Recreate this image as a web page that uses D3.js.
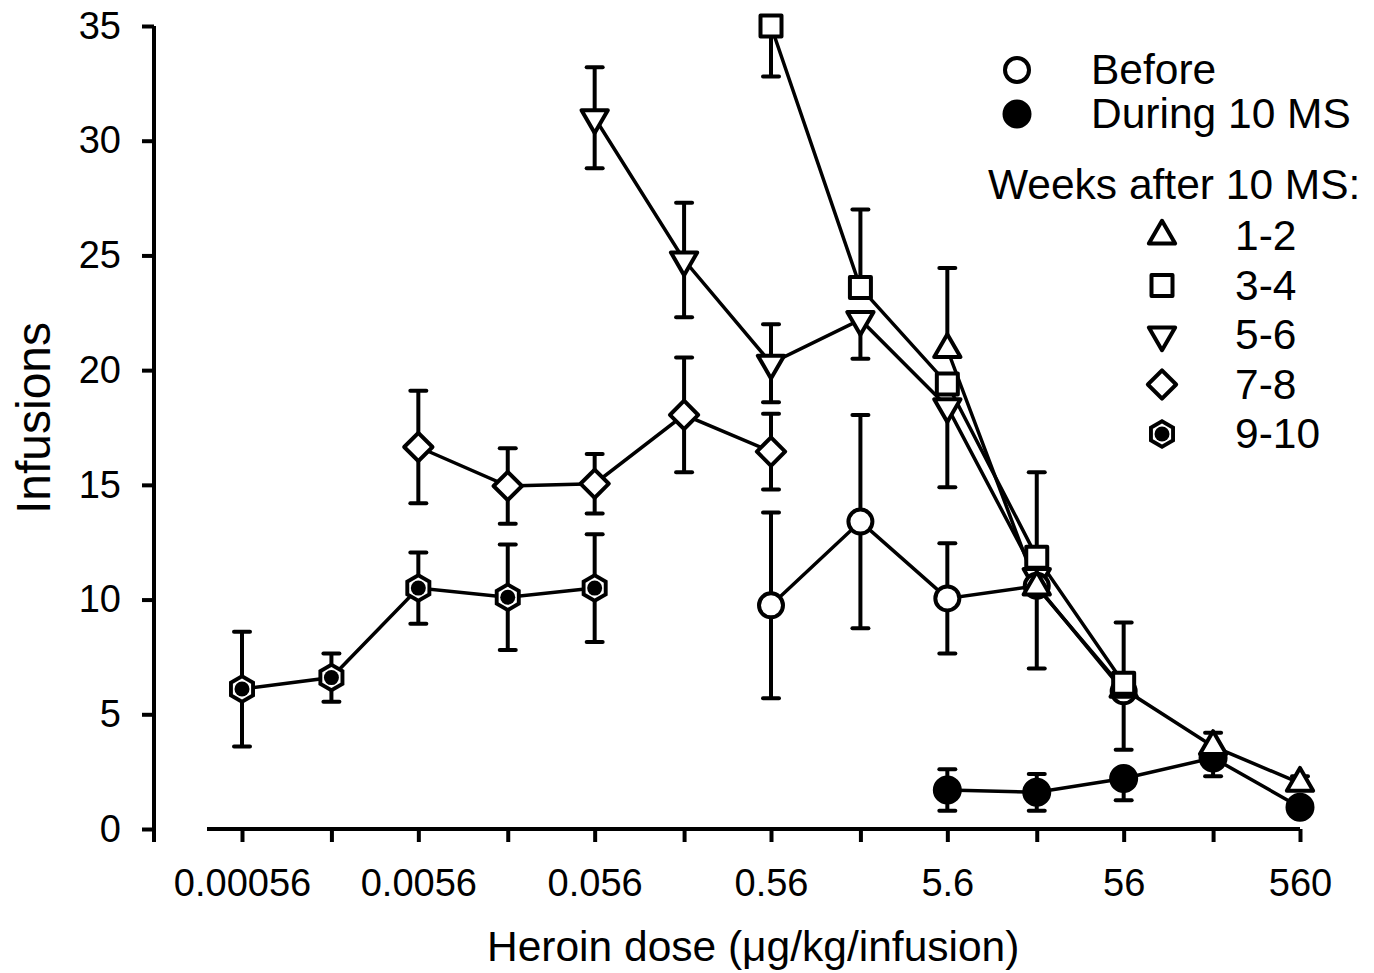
<!DOCTYPE html>
<html lang="en">
<head>
<meta charset="UTF-8">
<title>Heroin dose-response</title>
<script src="https://cdn.jsdelivr.net/npm/d3@7"></script>
<style>
body { margin: 0; background: #fff; }
text { font-family: "Liberation Sans", Arial, sans-serif; fill: #000; }
</style>
</head>
<body>
<script>
var width = 1374, height = 973;

// doses (ug/kg/infusion), one per half log step
var doseTicks = [0.00056, 0.0018, 0.0056, 0.018, 0.056, 0.18, 0.56, 1.8, 5.6, 18, 56, 180, 560];
var doseLabels = ["0.00056", "", "0.0056", "", "0.056", "", "0.56", "", "5.6", "", "56", "", "560"];
var yTicks = [0, 5, 10, 15, 20, 25, 30, 35];

// series: doses, mean infusions, error bar up / down (bars hidden by markers kept short)
var beforeDose = [0.56, 1.8, 5.6, 18, 56];
var beforeMean = [9.75, 13.4, 10.05, 10.6, 6.0];
var beforeUp   = [4.05, 4.65, 2.4, 0.3, 0.3];
var beforeDown = [4.05, 4.65, 2.4, 0.3, 2.55];

var duringDose = [5.6, 18, 56, 180, 560];
var duringMean = [1.7, 1.6, 2.2, 3.1, 0.95];
var duringUp   = [0.9, 0.8, 0.3, 0.3, 0.3];
var duringDown = [0.9, 0.8, 0.95, 0.8, 0.3];

var w12Dose = [5.6, 18, 56, 180, 560];
var w12Mean = [20.9, 10.55, 6.1, 3.6, 2.0];
var w12Up   = [3.55, 0.3, 0.3, 0.6, 0.3];
var w12Down = [0.3, 3.55, 0.3, 0.3, 0.3];

var w34Dose = [0.56, 1.8, 5.6, 18, 56];
var w34Mean = [35.0, 23.6, 19.4, 11.85, 6.35];
var w34Up   = [2.2, 3.4, 0.3, 3.7, 2.65];
var w34Down = [2.2, 0.3, 0.3, 0.3, 0.3];

var w56Dose = [0.056, 0.18, 0.56, 1.8, 5.6, 18];
var w56Mean = [31.0, 24.8, 20.3, 22.2, 18.4, 11.0];
var w56Up   = [2.2, 2.5, 1.7, 0.3, 0.3, 0.3];
var w56Down = [2.2, 2.5, 1.7, 1.7, 3.5, 0.3];

var w78Dose = [0.0056, 0.018, 0.056, 0.18, 0.56];
var w78Mean = [16.65, 14.95, 15.05, 18.05, 16.45];
var w78Up   = [2.45, 1.65, 1.3, 2.5, 1.65];
var w78Down = [2.45, 1.65, 1.3, 2.5, 1.65];

var w910Dose = [0.00056, 0.0018, 0.0056, 0.018, 0.056];
var w910Mean = [6.1, 6.6, 10.5, 10.1, 10.5];
var w910Up   = [2.5, 1.05, 1.55, 2.3, 2.35];
var w910Down = [2.5, 1.05, 1.55, 2.3, 2.35];

function pack(dose, mean, up, down) {
	return dose.map(function(d, i) { return {dose: d, mean: mean[i], up: up[i], down: down[i]}; });
}

// drawing order (later on top)
var series = [
	{name: "9-10", shape: "hex", data: pack(w910Dose, w910Mean, w910Up, w910Down)},
	{name: "7-8", shape: "diamond", data: pack(w78Dose, w78Mean, w78Up, w78Down)},
	{name: "5-6", shape: "down", data: pack(w56Dose, w56Mean, w56Up, w56Down)},
	{name: "During", shape: "filled", data: pack(duringDose, duringMean, duringUp, duringDown)},
	{name: "Before", shape: "open", data: pack(beforeDose, beforeMean, beforeUp, beforeDown)},
	{name: "1-2", shape: "up", data: pack(w12Dose, w12Mean, w12Up, w12Down)},
	{name: "3-4", shape: "square", data: pack(w34Dose, w34Mean, w34Up, w34Down)}
];

var svg = d3.select("body").append("svg").attr("width", width).attr("height", height);

var x = d3.scaleLog().domain([0.00056, 560]).range([242, 1300]);
var y = d3.scaleLinear().domain([0, 35]).range([829, 26]);

// axes
var xAxis = svg.append("g").attr("transform", "translate(0," + y(0) + ")")
	.call(d3.axisBottom(x).tickValues(doseTicks)
		.tickFormat(function(d, i) { return doseLabels[i]; })
		.tickSize(13).tickPadding(27).tickSizeOuter(0));
xAxis.select(".domain").attr("d", "M" + (x(0.00056) - 35) + ",0H" + x(560));

var yAxis = svg.append("g").attr("transform", "translate(154,0)")
	.call(d3.axisLeft(y).tickValues(yTicks).tickSize(12).tickPadding(21).tickSizeOuter(0));
yAxis.select(".domain").attr("d", "M0," + y(35) + "V" + (y(0) + 13));

svg.selectAll(".domain, .tick line").attr("stroke", "#000").attr("stroke-width", 4);
svg.selectAll(".tick text").attr("font-size", 38).attr("font-family", "Liberation Sans, Arial, sans-serif");

svg.append("text").attr("transform", "translate(50,418) rotate(-90)")
	.attr("text-anchor", "middle").attr("font-size", 48).text("Infusions");
svg.append("text").attr("x", 487).attr("y", 961)
	.attr("font-size", 42.5).text("Heroin dose (\u03bcg/kg/infusion)");

// marker shapes
function hexPath(R) {
	var p = [];
	for (var k = 0; k < 6; k++) {
		var a = Math.PI / 3 * k - Math.PI / 2;
		p.push([R * Math.cos(a), R * Math.sin(a)]);
	}
	return "M" + p.join("L") + "Z";
}
var triPath = d3.symbol(d3.symbolTriangle, 300)();
var sqPath = d3.symbol(d3.symbolSquare, 441)();
var diaPath = d3.symbol(d3.symbolSquare, 400)();

function drawMarker(g, shape) {
	if (shape === "open") {
		g.append("circle").attr("r", 12).attr("fill", "#fff").attr("stroke", "#000").attr("stroke-width", 4);
	} else if (shape === "filled") {
		g.append("circle").attr("r", 12.5).attr("fill", "#000").attr("stroke", "#000").attr("stroke-width", 4);
	} else if (shape === "up" || shape === "down") {
		g.append("path").attr("d", triPath).attr("transform", shape === "down" ? "rotate(180)" : null)
			.attr("fill", "#fff").attr("stroke", "#000").attr("stroke-width", 4).attr("stroke-linejoin", "round");
	} else if (shape === "square") {
		g.append("path").attr("d", sqPath).attr("fill", "#fff").attr("stroke", "#000")
			.attr("stroke-width", 4).attr("stroke-linejoin", "round");
	} else if (shape === "diamond") {
		g.append("path").attr("d", diaPath).attr("transform", "rotate(45)").attr("fill", "#fff")
			.attr("stroke", "#000").attr("stroke-width", 4).attr("stroke-linejoin", "round");
	} else if (shape === "hex") {
		g.append("path").attr("d", hexPath(15)).attr("fill", "#000");
		g.append("path").attr("d", hexPath(10.5)).attr("fill", "#fff");
		g.append("circle").attr("r", 7.5).attr("fill", "#000");
	}
}

// error bars
var capW = 8;
series.forEach(function(s) {
	var eb = svg.append("g").selectAll("g").data(s.data).enter().append("g");
	eb.each(function(d) {
		var g = d3.select(this), cx = x(d.dose);
		var top = Math.min(35, d.mean + d.up), bot = d.mean - d.down;
		g.append("line").attr("x1", cx).attr("x2", cx).attr("y1", y(top)).attr("y2", y(bot))
			.attr("stroke", "#000").attr("stroke-width", 4);
		if (d.mean + d.up <= 35) {
			g.append("line").attr("x1", cx - capW).attr("x2", cx + capW).attr("y1", y(top)).attr("y2", y(top))
				.attr("stroke", "#000").attr("stroke-width", 4).attr("stroke-linecap", "round");
		}
		g.append("line").attr("x1", cx - capW).attr("x2", cx + capW).attr("y1", y(bot)).attr("y2", y(bot))
			.attr("stroke", "#000").attr("stroke-width", 4).attr("stroke-linecap", "round");
	});
});

// lines
var line = d3.line().x(function(d) { return x(d.dose); }).y(function(d) { return y(d.mean); });
series.forEach(function(s) {
	svg.append("path").datum(s.data).attr("d", line).attr("fill", "none")
		.attr("stroke", "#000").attr("stroke-width", 3.5);
});

// markers
series.forEach(function(s) {
	svg.append("g").selectAll("g").data(s.data).enter().append("g")
		.attr("transform", function(d) { return "translate(" + x(d.dose) + "," + y(d.mean) + ")"; })
		.each(function() { drawMarker(d3.select(this), s.shape); });
});

// legend
var legTop = [{label: "Before", shape: "open", y: 70}, {label: "During 10 MS", shape: "filled", y: 114}];
legTop.forEach(function(l) {
	drawMarker(svg.append("g").attr("transform", "translate(1017," + l.y + ")"), l.shape);
	svg.append("text").attr("x", 1091).attr("y", l.y + 14).attr("font-size", 42.5).text(l.label);
});
svg.append("text").attr("x", 988).attr("y", 199).attr("font-size", 42.5).text("Weeks after 10 MS:");
var legWeeks = [{label: "1-2", shape: "up"}, {label: "3-4", shape: "square"}, {label: "5-6", shape: "down"},
	{label: "7-8", shape: "diamond"}, {label: "9-10", shape: "hex"}];
legWeeks.forEach(function(l, i) {
	var ly = 236 + i * 49.5;
	drawMarker(svg.append("g").attr("transform", "translate(1162," + ly + ")"), l.shape);
	svg.append("text").attr("x", 1235).attr("y", ly + 14).attr("font-size", 42.5).text(l.label);
});
</script>
</body>
</html>
